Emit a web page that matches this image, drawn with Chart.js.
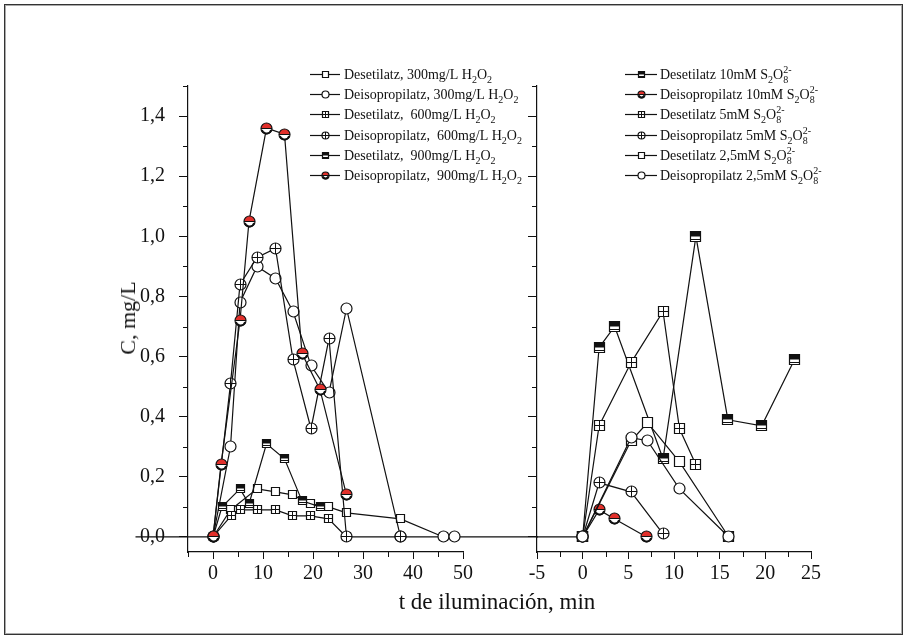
<!DOCTYPE html>
<html lang="es">
<head>
<meta charset="UTF-8">
<title>Desetilatrazina y deisopropilatrazina</title>
<script src="https://cdn.jsdelivr.net/npm/chart.js"></script>
<style>
  body { margin: 0; background: #fff; font-family: 'Liberation Serif', 'Times New Roman', serif; }
  #frame { position: absolute; left: 4px; top: 4px; width: 897px; height: 629px;
           border: 1px solid #333; box-shadow: inset 0 0 0 1px #aaa; }
  canvas { position: absolute; top: 0; }
  .axis-title { position: absolute; color: #111; white-space: nowrap; }
  #yTitle { left: 128px; top: 318px; font-size: 22px; transform: translate(-50%, -50%) rotate(-90deg); }
  #xTitle { left: 497px; top: 602px; font-size: 23px; transform: translate(-50%, -50%); }
</style>
</head>
<body>
<div id="frame"></div>
<canvas id="leftChart" width="540" height="639" style="left:0"></canvas>
<canvas id="rightChart" width="427" height="639" style="left:480px"></canvas>
<div class="axis-title" id="yTitle">C, mg/L</div>
<div class="axis-title" id="xTitle">t de iluminación, min</div>

<script>
// ---- H2O2 runs (left panel), time in min, C in mg/L ----
const tDes300   = [0, 3.5, 8.8, 12.5, 15.9, 19.4, 23.1, 26.7, 37.5, 46.1];
const cDes300   = [0, 0.09, 0.16, 0.15, 0.14, 0.11, 0.10, 0.08, 0.06, 0];
const tDeiso300 = [0, 3.5, 5.4, 8.8, 12.5, 16.0, 19.6, 23.2, 26.7, 37.5, 46.1, 48.3];
const cDeiso300 = [0, 0.30, 0.78, 0.90, 0.86, 0.75, 0.57, 0.48, 0.76, 0, 0, 0];
const tDes600   = [0, 3.6, 5.4, 8.8, 12.5, 15.9, 19.4, 23.1, 26.7];
const cDes600   = [0, 0.07, 0.09, 0.09, 0.09, 0.07, 0.07, 0.06, 0];
const tDeiso600 = [0, 3.5, 5.4, 8.8, 12.5, 16.0, 19.6, 23.2, 26.7, 37.5];
const cDeiso600 = [0, 0.51, 0.84, 0.93, 0.96, 0.59, 0.36, 0.66, 0, 0];
const tDes900   = [0, 1.8, 5.4, 7.2, 10.7, 14.3, 17.8, 21.4];
const cDes900   = [0, 0.10, 0.16, 0.11, 0.31, 0.26, 0.12, 0.10];
const tDeiso900 = [0, 1.6, 5.4, 7.2, 10.7, 14.3, 17.8, 21.4, 26.7];
const cDeiso900 = [0, 0.24, 0.72, 1.05, 1.36, 1.34, 0.61, 0.49, 0.14];

// ---- persulfate runs (right panel) ----
const tDes10    = [0, 1.8, 3.5, 8.8, 12.4, 15.9, 19.6, 23.2];
const cDes10    = [0, 0.63, 0.70, 0.26, 1.00, 0.39, 0.37, 0.59];
const tDeiso10  = [0, 1.8, 3.5, 7.0];
const cDeiso10  = [0, 0.09, 0.06, 0.00];
const tDes5     = [0, 1.8, 5.3, 8.8, 10.6, 12.4];
const cDes5     = [0, 0.37, 0.58, 0.75, 0.36, 0.24];
const tDeiso5   = [0, 1.8, 5.3, 8.8];
const cDeiso5   = [0, 0.18, 0.15, 0.01];
const tDes25    = [0, 5.3, 7.1, 10.6, 16.0];
const cDes25    = [0, 0.32, 0.38, 0.25, 0];
const tDeiso25  = [0, 5.3, 7.1, 10.6, 16.0];
const cDeiso25  = [0, 0.33, 0.32, 0.16, 0];

// zero baseline runs left of t=0 and on past the end of the left axis
const baseLeftT  = [-15.5, 0, null, 48.3, 65];
const baseRightT = [-5, 0];

// legend text (_x = subscript, ^{..} = superscript)
const leftLabels = [
  'Desetilatz, 300mg/L H_2O_2',
  'Deisopropilatz, 300mg/L H_2O_2',
  'Desetilatz,  600mg/L H_2O_2',
  'Deisopropilatz,  600mg/L H_2O_2',
  'Desetilatz,  900mg/L H_2O_2',
  'Deisopropilatz,  900mg/L H_2O_2'
];
const rightLabels = [
  'Desetilatz 10mM S_2O_8^{2-}',
  'Deisopropilatz 10mM S_2O_8^{2-}',
  'Desetilatz 5mM S_2O_8^{2-}',
  'Deisopropilatz 5mM S_2O_8^{2-}',
  'Desetilatz 2,5mM S_2O_8^{2-}',
  'Deisopropilatz 2,5mM S_2O_8^{2-}'
];

// axis ticks
const leftXTicks  = [0, 10, 20, 30, 40, 50];
const leftXMinor  = [-5, 5, 15, 25, 35, 45];
const rightXTicks = [-5, 0, 5, 10, 15, 20, 25];
const rightXMinor = [-2.5, 2.5, 7.5, 12.5, 17.5, 22.5];
const yTicks      = [0, 0.2, 0.4, 0.6, 0.8, 1.0, 1.2, 1.4];
const yMinor      = [0.1, 0.3, 0.5, 0.7, 0.9, 1.1, 1.3, 1.5];

const INK = '#111';
const RED = '#e2302b';
const FONT = "'Liberation Serif', 'Times New Roman', serif";

function pts(t, c) {
  return t.map((x, i) => ({ x: x, y: x === null ? null : c[i] }));
}

// marker glyphs drawn once onto small canvases (odd side so 1px lines sit on pixel centres)
function makeMarker(kind, size) {
  let S = size + 3;
  if (S % 2 === 0) S++;
  const c = document.createElement('canvas');
  c.width = c.height = S;
  const g = c.getContext('2d');
  const m = S / 2, r = size / 2;
  g.lineWidth = 1;
  g.strokeStyle = INK;
  g.fillStyle = '#fff';
  const round = kind.indexOf('ircle') >= 0;
  const shape = () => {
    g.beginPath();
    if (round) g.arc(m, m, r, 0, Math.PI * 2);
    else g.rect(m - r, m - r, 2 * r, 2 * r);
  };
  shape(); g.fill();
  if (kind === 'halfSquare') {
    g.fillStyle = INK;
    g.fillRect(m - r, m - r, 2 * r, Math.round(r * 0.9));
    const yl = Math.round(m + r * 0.4) + 0.5;
    g.beginPath(); g.moveTo(m - r, yl); g.lineTo(m + r, yl); g.stroke();
  }
  if (kind === 'halfCircle') {
    g.fillStyle = RED;
    g.beginPath(); g.arc(m, m, r, Math.PI, 0); g.closePath(); g.fill();
    g.beginPath(); g.moveTo(m - r, m); g.lineTo(m + r, m); g.stroke();
    g.save(); g.lineWidth = 2;
    g.beginPath(); g.arc(m, m, r - 0.6, 0.1 * Math.PI, 0.9 * Math.PI); g.stroke();
    g.restore();
  }
  if (kind === 'crossSquare' || kind === 'crossCircle') {
    g.beginPath();
    g.moveTo(m - r, m); g.lineTo(m + r, m);
    g.moveTo(m, m - r); g.lineTo(m, m + r);
    g.stroke();
  }
  g.lineWidth = 1.2;
  shape(); g.stroke();
  return c;
}

function series(label, t, c, kind, size, order) {
  return {
    label: label,
    data: pts(t, c),
    showLine: true,
    borderColor: INK,
    borderWidth: 1.2,
    pointStyle: makeMarker(kind, size),
    pointRadius: size / 2,
    legendIcon: makeMarker(kind, kind.indexOf('ircle') >= 0 ? 7 : 6),
    order: order
  };
}

function baseline(t) {
  return {
    data: t.map(x => ({ x: x, y: x === null ? null : 0 })),
    showLine: true, spanGaps: false,
    borderColor: INK, borderWidth: 1.2,
    pointRadius: 0, clip: false, order: 20
  };
}

// draw a label with simple sub/superscript markup
function drawRich(ctx, str, x, y, size) {
  const small = Math.round(size * 0.68) + 'px ' + FONT;
  const normal = size + 'px ' + FONT;
  let i = 0;
  while (i < str.length) {
    if (str[i] === '_') {
      const sub = str[i + 1];
      i += 2;
      let sup = null;
      if (str.startsWith('^{', i)) {
        const j = str.indexOf('}', i);
        sup = str.slice(i + 2, j);
        i = j + 1;
      }
      ctx.font = small;
      ctx.fillText(sub, x, y + 4);
      let w = ctx.measureText(sub).width;
      if (sup) {
        ctx.fillText(sup, x, y - 6);
        w = Math.max(w, ctx.measureText(sup).width);
      }
      x += w;
    } else {
      let j = i;
      while (j < str.length && str[j] !== '_') j++;
      const run = str.slice(i, j);
      ctx.font = normal;
      ctx.fillText(run, x, y);
      x += ctx.measureText(run).width;
      i = j;
    }
  }
}

// legend as a column of "—o— label" rows
const rowLegend = {
  id: 'rowLegend',
  afterDraw(chart, args, opts) {
    const ctx = chart.ctx;
    ctx.save();
    ctx.fillStyle = INK;
    ctx.strokeStyle = INK;
    ctx.lineWidth = 1.2;
    ctx.textBaseline = 'alphabetic';
    let row = 0;
    chart.data.datasets.forEach(ds => {
      if (!ds.legendIcon) return;
      const y = Math.round(opts.y + row * opts.step) + 0.5;
      ctx.beginPath();
      ctx.moveTo(opts.x, y);
      ctx.lineTo(opts.x + opts.lineLen, y);
      ctx.stroke();
      const icon = ds.legendIcon;
      ctx.drawImage(icon, Math.round(opts.x + opts.lineLen / 2 - icon.width / 2),
                    Math.round(y - icon.height / 2));
      drawRich(ctx, ds.label, opts.x + opts.lineLen + opts.gap, y + 4.5, opts.size);
      row++;
    });
    ctx.restore();
  }
};

// short unlabelled ticks between the labelled ones
const minorTicks = {
  id: 'minorTicks',
  afterDraw(chart, args, opts) {
    const ctx = chart.ctx;
    const xs = chart.scales.x, ys = chart.scales.y;
    ctx.save();
    ctx.strokeStyle = INK;
    ctx.lineWidth = 1;
    ctx.beginPath();
    (opts.x || []).forEach(v => {
      const px = Math.round(xs.getPixelForValue(v)) + 0.5;
      ctx.moveTo(px, xs.top);
      ctx.lineTo(px, xs.top + opts.len);
    });
    (opts.y || []).forEach(v => {
      const py = Math.round(ys.getPixelForValue(v)) + 0.5;
      ctx.moveTo(ys.right, py);
      ctx.lineTo(ys.right - opts.len, py);
    });
    ctx.stroke();
    ctx.restore();
  }
};

// marker images are pixel-snapped instead of resampled
const crispMarkers = {
  id: 'crispMarkers',
  beforeDatasetsDraw(chart) { chart.ctx.imageSmoothingEnabled = false; },
  afterDatasetsDraw(chart) { chart.ctx.imageSmoothingEnabled = true; }
};

function axisStyle(tickLen) {
  return {
    grid: { drawOnChartArea: false, drawTicks: true, tickLength: tickLen, color: INK, lineWidth: 1 },
    border: { display: true, color: INK, width: 1.2 }
  };
}

function makeChart(id, datasets, opt) {
  return new Chart(document.getElementById(id), {
    type: 'scatter',
    data: { datasets: datasets },
    options: {
      responsive: false,
      animation: false,
      events: [],
      layout: { padding: { left: 0, top: 86, right: opt.padRight, bottom: 0 } },
      plugins: {
        legend: { display: false },
        tooltip: { enabled: false },
        rowLegend: opt.legend,
        minorTicks: { x: opt.xMinor, y: yMinor, len: 5 }
      },
      scales: {
        x: Object.assign({
          type: 'linear', min: opt.xMin, max: opt.xMax,
          afterBuildTicks: ax => { ax.ticks = opt.xTicks.map(v => ({ value: v })); },
          afterFit: ax => { ax.height = 87; },
          ticks: { color: INK, font: { family: FONT, size: 20 }, padding: 3, maxRotation: 0, autoSkip: false }
        }, axisStyle(7)),
        y: Object.assign({
          type: 'linear', min: -0.05, max: 1.5,
          afterBuildTicks: ax => { ax.ticks = yTicks.map(v => ({ value: v })); },
          afterFit: ax => { ax.width = opt.yWidth; },
          ticks: {
            color: INK, font: { family: FONT, size: 20 }, padding: 14, autoSkip: false,
            callback: v => opt.yLabels ? v.toFixed(1).replace('.', ',') : ''
          }
        }, axisStyle(9))
      }
    },
    plugins: [rowLegend, minorTicks, crispMarkers]
  });
}

const leftSets = [
  series(leftLabels[0], tDes300,   cDes300,   'square',      8, 6),
  series(leftLabels[1], tDeiso300, cDeiso300, 'circle',     11, 5),
  series(leftLabels[2], tDes600,   cDes600,   'crossSquare', 8, 4),
  series(leftLabels[3], tDeiso600, cDeiso600, 'crossCircle',11, 3),
  series(leftLabels[4], tDes900,   cDes900,   'halfSquare',  8, 2),
  series(leftLabels[5], tDeiso900, cDeiso900, 'halfCircle', 11, 1),
  baseline(baseLeftT)
];

const rightSets = [
  series(rightLabels[0], tDes10,   cDes10,   'halfSquare', 10, 6),
  series(rightLabels[1], tDeiso10, cDeiso10, 'halfCircle', 11, 5),
  series(rightLabels[2], tDes5,    cDes5,    'crossSquare',10, 4),
  series(rightLabels[3], tDeiso5,  cDeiso5,  'crossCircle',11, 3),
  series(rightLabels[4], tDes25,   cDes25,   'square',     10, 2),
  series(rightLabels[5], tDeiso25, cDeiso25, 'circle',     11, 1),
  baseline(baseRightT)
];

makeChart('leftChart', leftSets, {
  xMin: -5, xMax: 50, xTicks: leftXTicks, xMinor: leftXMinor,
  yWidth: 188, yLabels: true, padRight: 77,
  legend: { x: 310, y: 74, step: 20.2, lineLen: 30, gap: 4, size: 14 }
});

makeChart('rightChart', rightSets, {
  xMin: -5, xMax: 25, xTicks: rightXTicks, xMinor: rightXMinor,
  yWidth: 57, yLabels: false, padRight: 96,
  legend: { x: 145, y: 74, step: 20.2, lineLen: 32, gap: 3, size: 14 }
});
</script>
</body>
</html>
